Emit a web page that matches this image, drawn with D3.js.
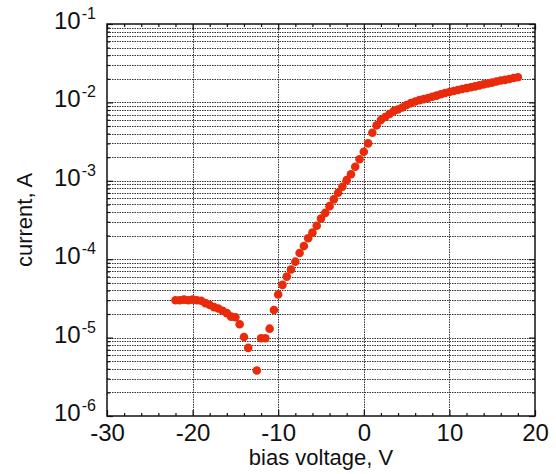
<!DOCTYPE html>
<html>
<head>
<meta charset="utf-8">
<script src="https://cdn.jsdelivr.net/npm/d3@7"></script>
<style>
  body { margin: 0; background: #fff; }
  text { font-family: 'Liberation Sans', Arial, sans-serif; fill: #111; }
</style>
</head>
<body>
<svg id="chart" width="556" height="474"></svg>
<script>
// bias sweep (V, A)
const voltage = [
  -22, -21.5, -21, -20.5, -20, -19.5, -19, -18.5, -18, -17.5, -17, -16.5, -16, -15.5, -15, -14.5,
  -14, -13.5, -12.5, -12, -11.5, -11, -10.5, -10, -9.5, -9, -8.5, -8, -7.5, -7, -6.5, -6, -5.5,
  -5, -4.5, -4, -3.5, -3, -2.5, -2, -1.5, -1, -0.5, 0, 0.5, 1, 1.5, 2, 2.5, 3, 3.5, 4, 4.5, 5,
  5.5, 6, 6.5, 7, 7.5, 8, 8.5, 9, 9.5, 10, 10.5, 11, 11.5, 12, 12.5, 13, 13.5, 14, 14.5, 15,
  15.5, 16, 16.5, 17, 17.5, 18
]
const current = [
  3.0e-5, 3.0e-5, 3.05e-5, 3.0e-5, 3.05e-5, 3.0e-5, 2.95e-5, 2.75e-5, 2.6e-5, 2.45e-5, 2.35e-5,
  2.2e-5, 2.05e-5, 1.85e-5, 1.82e-5, 1.48e-5, 1.02e-5, 7.4e-6, 3.8e-6, 9.8e-6, 9.8e-6, 1.3e-5,
  2.25e-5, 3.55e-5, 4.7e-5, 6.0e-5, 7.4e-5, 9.3e-5, 1.2e-4, 1.47e-4, 1.85e-4, 2.18e-4, 2.67e-4,
  3.3e-4, 3.9e-4, 4.75e-4, 5.8e-4, 7.05e-4, 8.4e-4, 1.02e-3, 1.21e-3, 1.51e-3, 1.88e-3, 2.35e-3,
  3.0e-3, 4.1e-3, 5.1e-3, 5.95e-3, 6.5e-3, 7.1e-3, 7.75e-3, 8.1e-3, 8.6e-3, 9.25e-3, 9.8e-3,
  1.025e-2, 1.07e-2, 1.1e-2, 1.14e-2, 1.18e-2, 1.22e-2, 1.27e-2, 1.32e-2, 1.36e-2, 1.4e-2,
  1.44e-2, 1.48e-2, 1.52e-2, 1.56e-2, 1.6e-2, 1.65e-2, 1.7e-2, 1.74e-2, 1.79e-2, 1.85e-2, 1.9e-2,
  1.94e-2, 1.99e-2, 2.05e-2, 2.09e-2
]
const xTicks = [-30, -20, -10, 0, 10, 20]
const xMinorTicks = [-28, -26, -24, -22, -18, -16, -14, -12, -8, -6, -4, -2, 2, 4, 6, 8, 12, 14, 16, 18]
const xGrid = [-20, -10, 0, 10]
const yDecades = [1e-6, 1e-5, 1e-4, 1e-3, 1e-2, 1e-1]
const yExponents = ['-6', '-5', '-4', '-3', '-2', '-1']
const xLabel = 'bias voltage, V'
const yLabel = 'current, A'

const margin = { left: 107, right: 535, top: 24, bottom: 416 }
const svg = d3.select('#chart')

const x = d3.scaleLinear().domain([-30, 20]).range([margin.left, margin.right])
const y = d3.scaleLog().domain([1e-6, 1e-1]).range([margin.bottom, margin.top])

// every 1..9 step inside each decade, for grid + minor ticks
const yAll = []
yDecades.slice(0, -1).forEach(d => {
  d3.range(1, 10).forEach(m => yAll.push(d * m))
})
yAll.push(1e-1)
const yMinor = yAll.filter(v => !yDecades.some(d => Math.abs(v - d) < d * 1e-6))

const grid = svg.append('g').attr('class', 'grid')
  .attr('stroke', '#333')
  .attr('stroke-width', 1)
  .attr('stroke-dasharray', '1.5,1')

grid.selectAll('.hgrid')
  .data(yAll.slice(1, -1))
  .enter()
  .append('line')
  .attr('x1', margin.left)
  .attr('x2', margin.right)
  .attr('y1', d => Math.round(y(d)) + 0.5)
  .attr('y2', d => Math.round(y(d)) + 0.5)

grid.selectAll('.vgrid')
  .data(xGrid)
  .enter()
  .append('line')
  .attr('x1', d => Math.round(x(d)) + 0.5)
  .attr('x2', d => Math.round(x(d)) + 0.5)
  .attr('y1', margin.top)
  .attr('y2', margin.bottom)

function styleAxis (g) {
  g.select('.domain').remove()
  g.selectAll('line').attr('stroke', '#111').attr('stroke-width', 1.2)
}

// bottom
svg.append('g')
  .attr('transform', `translate(0,${margin.bottom})`)
  .call(d3.axisBottom(x).tickValues(xTicks).tickSize(-6).tickPadding(8).tickFormat(d => String(d)))
  .call(styleAxis)
  .call(g => g.selectAll('text').attr('font-size', 24).attr('font-family', null).attr('fill', '#111'))
svg.append('g')
  .attr('transform', `translate(0,${margin.bottom})`)
  .call(d3.axisBottom(x).tickValues(xMinorTicks).tickSize(-3).tickFormat(''))
  .call(styleAxis)

// top
svg.append('g')
  .attr('transform', `translate(0,${margin.top})`)
  .call(d3.axisTop(x).tickValues(xTicks).tickSize(-6).tickFormat(''))
  .call(styleAxis)
svg.append('g')
  .attr('transform', `translate(0,${margin.top})`)
  .call(d3.axisTop(x).tickValues(xMinorTicks).tickSize(-3).tickFormat(''))
  .call(styleAxis)

// left
svg.append('g')
  .attr('transform', `translate(${margin.left},0)`)
  .call(d3.axisLeft(y).tickValues(yDecades).tickSize(-6).tickFormat(''))
  .call(styleAxis)
svg.append('g')
  .attr('transform', `translate(${margin.left},0)`)
  .call(d3.axisLeft(y).tickValues(yMinor).tickSize(-3).tickFormat(''))
  .call(styleAxis)

// right
svg.append('g')
  .attr('transform', `translate(${margin.right},0)`)
  .call(d3.axisRight(y).tickValues(yDecades).tickSize(-6).tickFormat(''))
  .call(styleAxis)
svg.append('g')
  .attr('transform', `translate(${margin.right},0)`)
  .call(d3.axisRight(y).tickValues(yMinor).tickSize(-3).tickFormat(''))
  .call(styleAxis)

// y tick labels as 10 with superscript exponent
const yLabels = svg.append('g').attr('class', 'yLabels')
yDecades.forEach((d, i) => {
  const t = yLabels.append('text')
    .attr('x', 54)
    .attr('y', y(d) + 5)
    .attr('font-size', 24)
  t.append('tspan').text('10')
  t.append('tspan')
    .attr('font-size', 16)
    .attr('dx', 1)
    .attr('dy', -10)
    .text(yExponents[i])
})

// frame
svg.append('rect')
  .attr('x', margin.left)
  .attr('y', margin.top)
  .attr('width', margin.right - margin.left)
  .attr('height', margin.bottom - margin.top)
  .attr('fill', 'none')
  .attr('stroke', '#111')
  .attr('stroke-width', 1.5)

svg.append('g')
  .attr('class', 'points')
  .selectAll('circle')
  .data(voltage.map((v, i) => [v, current[i]]))
  .enter()
  .append('circle')
  .attr('cx', d => x(d[0]))
  .attr('cy', d => y(d[1]))
  .attr('r', 4.3)
  .attr('fill', '#e92a0b')

svg.append('text')
  .attr('x', (margin.left + margin.right) / 2)
  .attr('y', 465)
  .attr('text-anchor', 'middle')
  .attr('font-size', 22)
  .text(xLabel)

svg.append('text')
  .attr('transform', `translate(32,${(margin.top + margin.bottom) / 2}) rotate(-90)`)
  .attr('text-anchor', 'middle')
  .attr('font-size', 22)
  .text(yLabel)
</script>
</body>
</html>
